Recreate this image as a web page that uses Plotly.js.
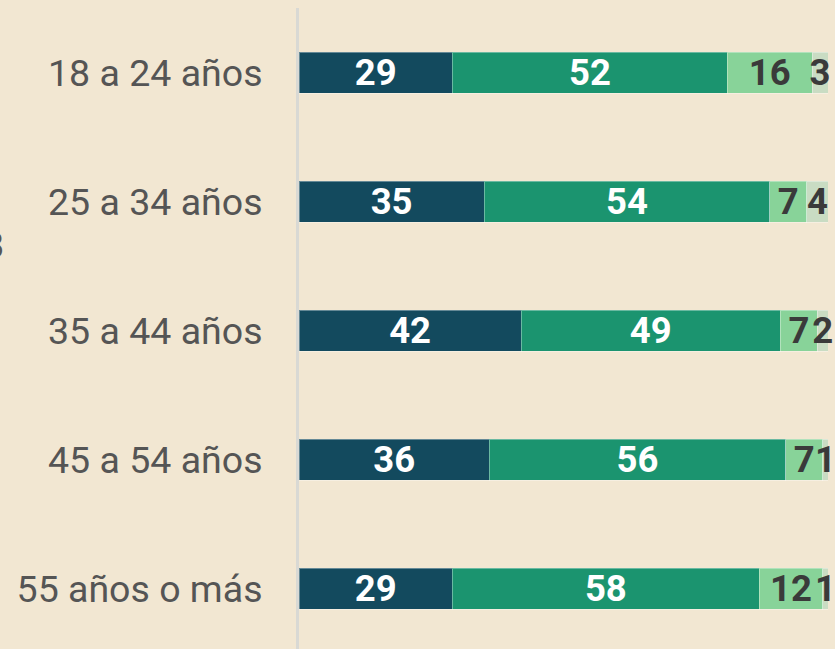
<!DOCTYPE html>
<html>
<head>
<meta charset="utf-8">
<script src="https://cdn.plot.ly/plotly-3.0.1.min.js"></script>
<style>html,body{margin:0;padding:0;background:#F2E7D2;}#chart{width:835px;height:649px;}</style>
</head>
<body>
<div id="chart"></div>
<script>
var categories = ["18 a 24 años", "25 a 34 años", "35 a 44 años", "45 a 54 años", "55 años o más"];
var seriesA = [29, 35, 42, 36, 29];
var seriesB = [52, 54, 49, 56, 58];
var seriesC = [16, 7, 7, 7, 12];
var seriesD = [3, 4, 2, 1, 1];

var colors = ["#134A5E", "#1B946F", "#88D399", "#C9DCC3"];
var textColors = ["#FFFFFF", "#FFFFFF", "#3A3A3A", "#3A3A3A"];
var allSeries = [seriesA, seriesB, seriesC, seriesD];

var traces = allSeries.map(function (vals, i) {
  return {
    type: "bar",
    orientation: "h",
    y: categories,
    x: vals,
    text: vals.map(String),
    textposition: "inside",
    insidetextanchor: "middle",
    textangle: 0,
    constraintext: "none",
    textfont: {family: "Roboto", size: 36.5, color: textColors[i], weight: "bold"},
    marker: {color: colors[i], line: {color: "rgba(255,255,255,0.35)", width: 1}},
    cliponaxis: false,
    hoverinfo: "skip",
    showlegend: false
  };
});

var layout = {
  width: 835,
  height: 649,
  barmode: "stack",
  bargap: 0.682,
  paper_bgcolor: "#F2E7D2",
  plot_bgcolor: "#F2E7D2",
  margin: {l: 299, r: 7, t: 8, b: 0},
  font: {family: "Roboto", color: "#555555"},
  uniformtext: {mode: "show", minsize: 36.5},
  xaxis: {range: [0, 100], visible: false, fixedrange: true},
  yaxis: {
    type: "category",
    range: [4.466, -0.503],
    showline: true,
    linecolor: "#D9D9D4",
    linewidth: 3,
    showgrid: false,
    zeroline: false,
    ticks: "",
    ticklabelstandoff: 26,
    tickfont: {family: "Roboto", size: 37.5, color: "#555555"}
  },
  annotations: [{
    text: "8",
    xref: "paper", yref: "paper",
    x: -0.554, y: 0.630,
    xanchor: "right", yanchor: "middle",
    showarrow: false,
    font: {family: "Roboto", size: 37.5, color: "#555555"}
  }]
};

Plotly.newPlot("chart", traces, layout, {displayModeBar: false, staticPlot: true});
</script>
</body>
</html>
